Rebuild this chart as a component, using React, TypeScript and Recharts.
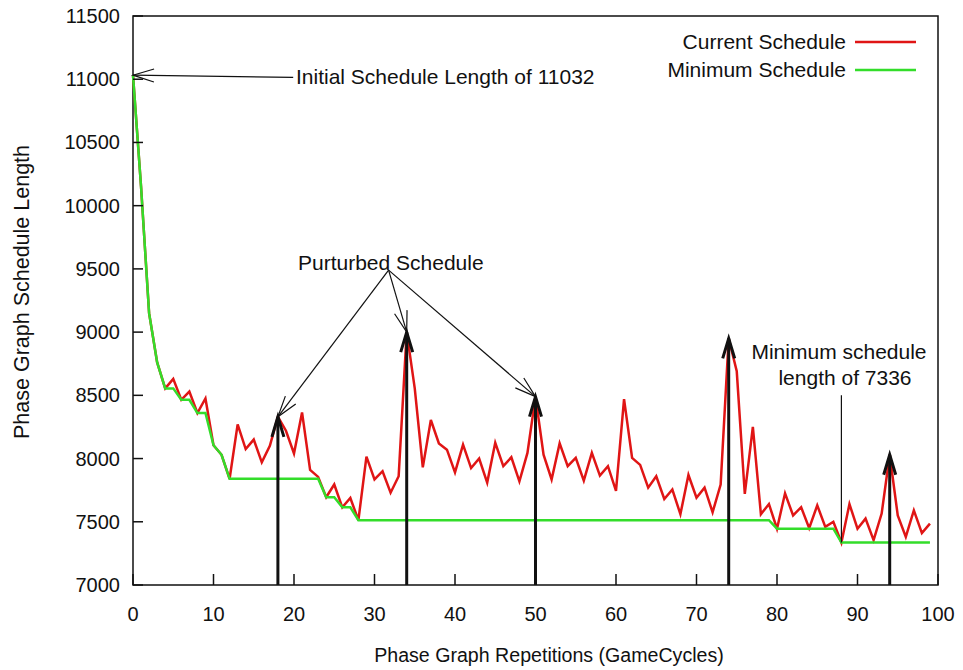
import {
  LineChart,
  Line,
  XAxis,
  YAxis,
  ReferenceLine,
  ReferenceArea,
  Customized,
} from "recharts";

const FONT = '"Liberation Sans", Arial, Helvetica, sans-serif';
const INK = "#111";
const RED = "#e01515";
const GREEN = "#33dd2a";

// schedule length after each game cycle (repetitions 0..99)
const currentSchedule = [
  11032, 10150, 9150, 8760, 8555, 8630, 8465, 8530, 8360, 8475,
  8105, 8030, 7840, 8270, 8075, 8150, 7970, 8100, 8330, 8220,
  8040, 8365, 7910, 7855, 7694, 7795, 7614, 7688, 7512, 8015,
  7835, 7900, 7730, 7860, 9000, 8555, 7930, 8305, 8120, 8070,
  7890, 8110, 7925, 8000, 7810, 8125, 7940, 8010, 7820, 8045,
  8490, 8030, 7835, 8120, 7940, 8005, 7825, 8045, 7865, 7940,
  7745, 8470, 8005, 7950, 7770, 7860, 7680, 7755, 7560, 7870,
  7690, 7770, 7575, 7795, 8950, 8690, 7720, 8250, 7560, 7640,
  7445, 7725, 7550, 7615, 7450, 7630, 7460, 7500, 7336, 7640,
  7445, 7525, 7355, 7565, 8030, 7550, 7380, 7590, 7410, 7485,
];

const minimumSchedule = [
  11032, 10150, 9150, 8760, 8555, 8555, 8465, 8465, 8360, 8360,
  8105, 8030, 7840, 7840, 7840, 7840, 7840, 7840, 7840, 7840,
  7840, 7840, 7840, 7840, 7694, 7694, 7614, 7614, 7512, 7512,
  7512, 7512, 7512, 7512, 7512, 7512, 7512, 7512, 7512, 7512,
  7512, 7512, 7512, 7512, 7512, 7512, 7512, 7512, 7512, 7512,
  7512, 7512, 7512, 7512, 7512, 7512, 7512, 7512, 7512, 7512,
  7512, 7512, 7512, 7512, 7512, 7512, 7512, 7512, 7512, 7512,
  7512, 7512, 7512, 7512, 7512, 7512, 7512, 7512, 7512, 7512,
  7445, 7445, 7445, 7445, 7445, 7445, 7445, 7445, 7336, 7336,
  7336, 7336, 7336, 7336, 7336, 7336, 7336, 7336, 7336, 7336,
];

const xTicks = [0, 10, 20, 30, 40, 50, 60, 70, 80, 90, 100];
const yTicks = [7000, 7500, 8000, 8500, 9000, 9500, 10000, 10500, 11000, 11500];

// cycles where the schedule was perturbed
const perturbedCycles = [18, 34, 50, 74, 94];

const data = currentSchedule.map((cur, i) => ({
  cycle: i,
  current: cur,
  minimum: minimumSchedule[i],
}));

// line with an open "V" head at its end point
const arrow =
  (width: number, len: number, spread: number, head = true) =>
  (props: any) => {
    const { x1, y1, x2, y2 } = props;
    const a = Math.atan2(y2 - y1, x2 - x1);
    const bx = x2 - len * Math.cos(a);
    const by = y2 - len * Math.sin(a);
    const px = spread * Math.sin(a);
    const py = -spread * Math.cos(a);
    return (
      <g>
        <line x1={x1} y1={y1} x2={x2} y2={y2} stroke={INK} strokeWidth={width} />
        {head && (
          <polyline
            points={`${bx + px},${by + py} ${x2},${y2} ${bx - px},${by - py}`}
            fill="none"
            stroke={INK}
            strokeWidth={width}
          />
        )}
      </g>
    );
  };

const YTick = ({ x, y, payload }: any) => (
  <g>
    <line x1={x} y1={y} x2={x + 10} y2={y} stroke={INK} strokeWidth={1.5} />
    <text x={x - 13} y={y} dy="0.35em" textAnchor="end" fontSize={20} fontFamily={FONT} fill={INK}>
      {payload.value}
    </text>
  </g>
);

const XTick = ({ x, y, payload }: any) => (
  <g>
    <line x1={x} y1={y} x2={x} y2={y - 11} stroke={INK} strokeWidth={1.5} />
    <text x={x} y={y + 36} textAnchor="middle" fontSize={20} fontFamily={FONT} fill={INK}>
      {payload.value}
    </text>
  </g>
);

const txt = { fontSize: 21, fontFamily: FONT, fill: INK };

const Labels = () => (
  <g>
    <text x={549} y={662} textAnchor="middle" {...txt} fontSize={19.6}>
      Phase Graph Repetitions (GameCycles)
    </text>
    <text
      x={22}
      y={292}
      textAnchor="middle"
      dominantBaseline="central"
      transform="rotate(-90 22 292)"
      {...txt}
      fontSize={21.5}
    >
      Phase Graph Schedule Length
    </text>

    {/* key */}
    <text x={846} y={42} dy="0.35em" textAnchor="end" {...txt}>Current Schedule</text>
    <line x1={855} y1={42} x2={916} y2={42} stroke={RED} strokeWidth={2.5} />
    <text x={846} y={70} dy="0.35em" textAnchor="end" {...txt}>Minimum Schedule</text>
    <line x1={855} y1={70} x2={916} y2={70} stroke={GREEN} strokeWidth={2.5} />

    <text x={296} y={77} dy="0.35em" {...txt}>Initial Schedule Length of 11032</text>
    <text x={298} y={263} dy="0.35em" {...txt}>Purturbed Schedule</text>
    <text x={839} y={352} dy="0.35em" textAnchor="middle" {...txt}>Minimum schedule</text>
    <text x={845} y={378} dy="0.35em" textAnchor="middle" {...txt}>length of 7336</text>
  </g>
);

export default function App() {
  const thinArrow = arrow(1.2, 21, 6.5);
  const thickArrow = arrow(3, 20, 6);
  const tail = { x: 31.75, y: 9490 };

  return (
    <div style={{ position: "absolute", left: 0, top: 0, background: "#fff" }}>
      <LineChart
        width={963}
        height={670}
        data={data}
        margin={{ top: 16, right: 25, bottom: 0, left: 0 }}
      >
        <XAxis
          dataKey="cycle"
          type="number"
          domain={[0, 100]}
          ticks={xTicks}
          height={85}
          axisLine={false}
          tickLine={false}
          tickSize={0}
          tickMargin={0}
          tick={<XTick />}
          interval={0}
        />
        <YAxis
          type="number"
          domain={[7000, 11500]}
          ticks={yTicks}
          width={133}
          axisLine={false}
          tickLine={false}
          tickSize={0}
          tickMargin={0}
          tick={<YTick />}
          interval={0}
          allowDataOverflow
        />

        <Line
          type="linear"
          dataKey="current"
          stroke={RED}
          strokeWidth={2.5}
          dot={false}
          isAnimationActive={false}
        />
        <Line
          type="linear"
          dataKey="minimum"
          stroke={GREEN}
          strokeWidth={2.5}
          dot={false}
          isAnimationActive={false}
        />

        {perturbedCycles.map((c) => (
          <ReferenceLine
            key={c}
            segment={[
              { x: c, y: 7000 },
              { x: c, y: currentSchedule[c] },
            ]}
            shape={thickArrow}
            ifOverflow="visible"
          />
        ))}

        <ReferenceLine
          segment={[{ x: 19.9, y: 11015 }, { x: 0, y: currentSchedule[0] }]}
          shape={thinArrow}
          ifOverflow="visible"
        />
        {[18, 34, 50].map((c) => (
          <ReferenceLine
            key={"p" + c}
            segment={[tail, { x: c, y: currentSchedule[c] }]}
            shape={thinArrow}
            ifOverflow="visible"
          />
        ))}
        <ReferenceLine
          segment={[{ x: 88, y: 8500 }, { x: 88, y: currentSchedule[88] }]}
          shape={arrow(1.2, 0, 0, false)}
          ifOverflow="visible"
        />

        <ReferenceArea
          x1={0}
          x2={100}
          y1={7000}
          y2={11500}
          fill="none"
          fillOpacity={0}
          stroke={INK}
          strokeWidth={1.5}
          ifOverflow="visible"
        />
        <Customized component={<Labels />} />
      </LineChart>
    </div>
  );
}
